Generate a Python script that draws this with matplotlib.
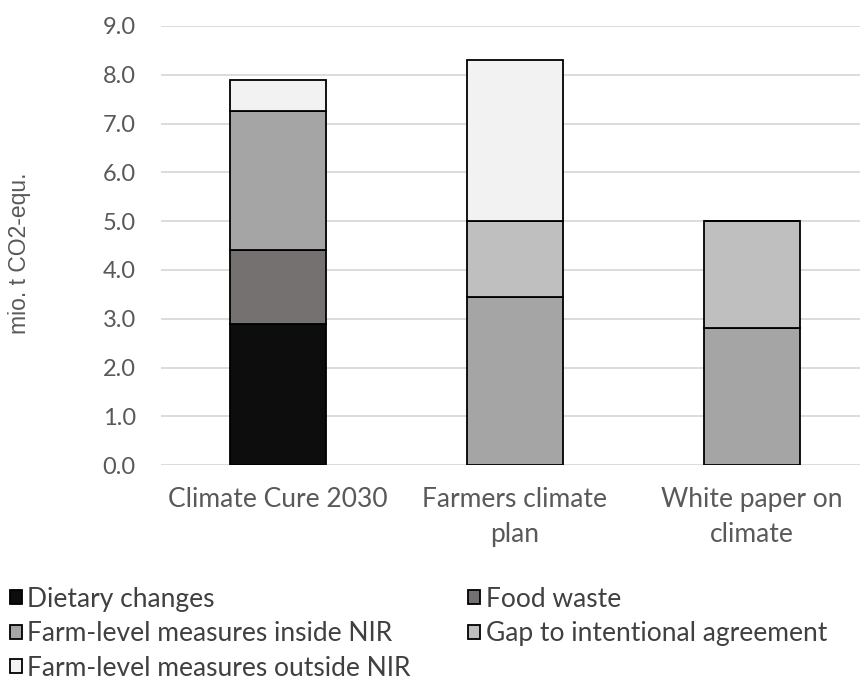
import matplotlib.pyplot as plt
import numpy as np

plt.rcParams['font.family'] = ['Lato', 'DejaVu Sans']

# scenarios and their stacked reductions (mio. t CO2-equ.)
scenarios = ['Climate Cure 2030', 'Farmers climate\nplan', 'White paper on\nclimate']
dietary = [2.9, 0.0, 0.0]
food_waste = [1.5, 0.0, 0.0]
farm_inside = [2.85, 3.45, 2.8]
gap_agreement = [0.0, 1.55, 2.2]
farm_outside = [0.65, 3.3, 0.0]

series = [
    ('Dietary changes', dietary, '#0d0d0d'),
    ('Food waste', food_waste, '#767171'),
    ('Farm-level measures inside NIR', farm_inside, '#a5a5a5'),
    ('Gap to intentional agreement', gap_agreement, '#bfbfbf'),
    ('Farm-level measures outside NIR', farm_outside, '#f2f2f2'),
]

fig = plt.figure(figsize=(8.6, 6.82), dpi=100)
ax = fig.add_axes([0.187, 0.318, 0.813, 0.644])

x = np.arange(len(scenarios))
bottom = np.zeros(len(scenarios))
handles = []
for name, vals, col in series:
    vals = np.array(vals)
    h = ax.bar(x, vals, 0.405, bottom=bottom, color=col, edgecolor='black',
               linewidth=1.3, label=name, zorder=3)
    handles.append(h)
    bottom += vals

ax.set_ylim(0, 9)
ax.set_xlim(-0.494, 2.456)
ticks = np.arange(0, 9.1, 1.0)
ax.set_yticks(ticks)
ax.set_yticklabels([f'{v:.1f}' for v in ticks])
ax.set_xticks(x)
ax.set_xticklabels(scenarios, linespacing=1.5)
ax.tick_params(axis='both', length=0, colors='#595959')
ax.tick_params(axis='y', pad=18, labelsize=17)
ax.tick_params(axis='x', pad=16, labelsize=19)
ax.yaxis.grid(True, color='#d9d9d9', linewidth=1.3, zorder=0)
for s in ax.spines.values():
    s.set_visible(False)

fig.text(0.023, 0.628, 'mio. t CO2-equ.', rotation=90, ha='center', va='center',
         fontsize=16.5, color='#595959', family='Liberation Sans')

# legend fills column by column, so order entries to read across rows
order = [0, 2, 4, 1, 3]
fig.legend(handles=[handles[i] for i in order], loc='upper left',
           bbox_to_anchor=(-0.004, 0.159), ncol=2, frameon=False, fontsize=19,
           handlelength=0.45, handleheight=0.45, handletextpad=0.2,
           columnspacing=2.2, labelspacing=0.36, borderpad=0.0,
           labelcolor='#404040')
fig.savefig('out.png', dpi=100)
